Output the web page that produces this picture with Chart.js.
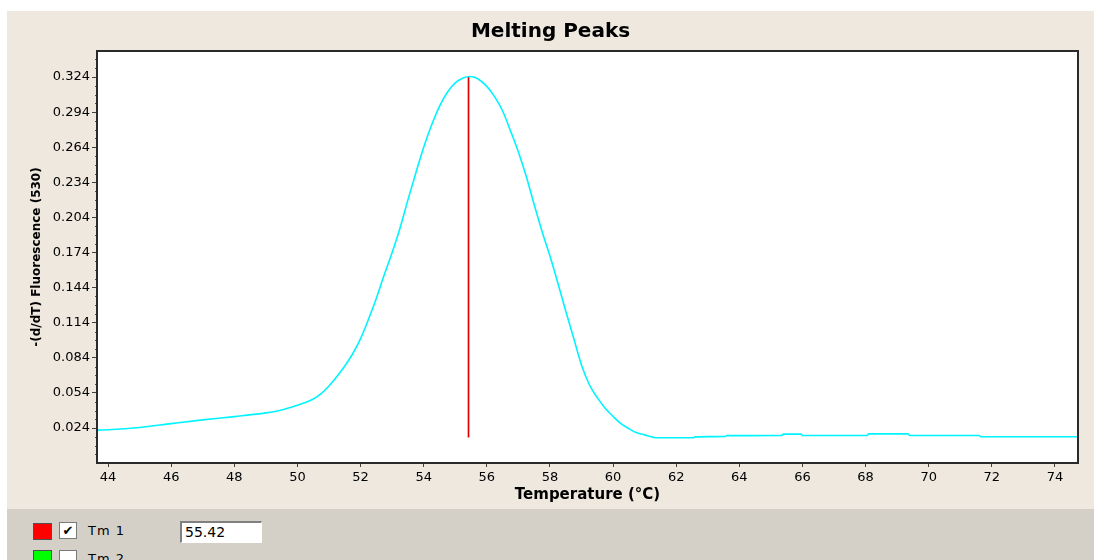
<!DOCTYPE html>
<html>
<head>
<meta charset="utf-8">
<title>Melting Peaks</title>
<script src="https://cdn.jsdelivr.net/npm/chart.js@4.4.1/dist/chart.umd.min.js"></script>
<style>
    body { margin: 0; background: #fff; width: 1094px; height: 560px; overflow: hidden; position: relative; font-family: "DejaVu Sans", sans-serif; }
    #panel { position: absolute; left: 7px; top: 11px; width: 1087px; height: 498px; background: #eee8df; }
    #bottom { position: absolute; left: 7px; top: 509px; width: 1087px; height: 51px; background: #d4d0c8; }
    .swatch { position: absolute; width: 17px; height: 15px; border: 1px solid #505050; }
    .check { position: absolute; width: 16px; height: 15px; background: #fff; border: 1px solid #7a7a7a; font-size: 13px; font-weight: bold; line-height: 15px; text-align: center; color: #000; }
    .lbl { position: absolute; font-size: 13px; color: #000; letter-spacing: 1px; }
    .tmbox { position: absolute; width: 76px; height: 19px; background: #fff; border-top: 2px solid #808080; border-left: 2px solid #808080; border-bottom: 1px solid #fff; border-right: 1px solid #fff; font-size: 14px; line-height: 19px; padding-left: 3px; box-sizing: content-box; }
</style>
</head>
<body>
<div id="panel"><canvas id="chart"></canvas></div>
<div id="bottom"></div>
<div class="swatch" style="left:33px;top:523px;background:#ff0000"></div>
<div class="check" style="left:59px;top:522px">✔</div>
<div class="lbl" style="left:88px;top:523px">Tm 1</div>
<div class="tmbox" style="left:180px;top:521px">55.42</div>
<div class="swatch" style="left:33px;top:550px;background:#00ff00"></div>
<div class="check" style="left:59px;top:550px"></div>
<div class="lbl" style="left:88px;top:551px">Tm 2</div>

<script>
// temperaturas (°C) y valores -(d/dT)
const temps = [
    43.68, 44, 45, 46, 47, 48, 49, 49.5, 50, 50.25,
    50.5, 50.75, 51, 51.25, 51.5, 51.75, 52, 52.25, 52.5, 52.75,
    53, 53.25, 53.5, 53.75, 54, 54.25, 54.5, 54.75, 55, 55.25,
    55.45, 55.7, 56, 56.25, 56.5, 56.75, 57, 57.25, 57.5, 57.75,
    58, 58.25, 58.5, 58.75, 59, 59.25, 59.5, 59.75, 60, 60.25,
    60.5, 60.75, 61, 61.4, 62.55, 62.6, 63.55, 63.6, 65.35, 65.4,
    65.95, 66, 68.05, 68.1, 69.35, 69.4, 71.6, 71.65, 74.7
];
const peakValues = [
    0.0222, 0.0225, 0.0245, 0.0278, 0.0310, 0.0338, 0.0370, 0.0395, 0.0435, 0.0458,
    0.0488, 0.0535, 0.0600, 0.0680, 0.0770, 0.0875, 0.1005, 0.1170, 0.1350, 0.1550,
    0.1740, 0.1950, 0.2190, 0.2420, 0.2640, 0.2830, 0.2990, 0.3110, 0.3190, 0.3232,
    0.3245, 0.3228, 0.3160, 0.3070, 0.2950, 0.2780, 0.2600, 0.2390, 0.2150, 0.1920,
    0.1710, 0.1480, 0.1240, 0.1010, 0.0780, 0.0610, 0.0500, 0.0410, 0.0340, 0.0278,
    0.0235, 0.0200, 0.0182, 0.0157, 0.0157, 0.0165, 0.0168, 0.0175, 0.0177, 0.0188,
    0.0188, 0.0176, 0.0177, 0.0190, 0.0190, 0.0177, 0.0177, 0.0166, 0.0166
];
const tmValue = 55.42;
const tmLine = [0.016, 0.324];
const xTicks = [44, 46, 48, 50, 52, 54, 56, 58, 60, 62, 64, 66, 68, 70, 72, 74];
const yTicks = [0.024, 0.054, 0.084, 0.114, 0.144, 0.174, 0.204, 0.234, 0.264, 0.294, 0.324];

// marco del area del grafico y fondo blanco
const framePlugin = {
    id: 'frame',
    beforeDraw(chart) {
        const a = chart.chartArea;
        const ctx = chart.ctx;
        ctx.save();
        ctx.fillStyle = '#fff';
        ctx.fillRect(a.left, a.top, a.right - a.left, a.bottom - a.top);
        ctx.restore();
    },
    afterDraw(chart) {
        const a = chart.chartArea;
        const ctx = chart.ctx;
        const y = chart.scales.y;
        ctx.save();
        // marcas menores del eje y
        ctx.strokeStyle = '#505050';
        ctx.lineWidth = 1;
        for (let i = 0; i < yTicks.length; i++) {
            for (let k = 1; k < 4; k++) {
                const v = yTicks[i] + k * 0.0075;
                if (v > y.max) continue;
                const py = Math.round(y.getPixelForValue(v)) + 0.5;
                ctx.beginPath();
                ctx.moveTo(a.left - 3, py);
                ctx.lineTo(a.left, py);
                ctx.stroke();
            }
        }
        for (let k = 1; k < 4; k++) {
            const py = Math.round(y.getPixelForValue(yTicks[0] - k * 0.0075)) + 0.5;
            ctx.beginPath();
            ctx.moveTo(a.left - 3, py);
            ctx.lineTo(a.left, py);
            ctx.stroke();
        }
        ctx.strokeStyle = '#2a2a2a';
        ctx.lineWidth = 2;
        ctx.strokeRect(a.left - 1, a.top - 1, a.right - a.left + 2, a.bottom - a.top + 2);
        ctx.restore();
    }
};

const ctx = document.getElementById('chart').getContext('2d');
const chart = new Chart(ctx, {
    type: 'line',
    data: {
        datasets: [{
            label: 'Peak',
            data: temps.map((t, i) => ({ x: t, y: peakValues[i] })),
            borderColor: '#00f4ff',
            borderWidth: 1.6,
            pointRadius: 0,
            fill: false,
            cubicInterpolationMode: 'monotone'
        }, {
            label: 'Tm 1',
            data: tmLine.map(v => ({ x: tmValue, y: v })),
            borderColor: '#e00000',
            borderWidth: 1.7,
            pointRadius: 0,
            fill: false
        }]
    },
    options: {
        responsive: true,
        maintainAspectRatio: false,
        animation: false,
        layout: { padding: 0 },
        plugins: {
            legend: { display: false },
            tooltip: { enabled: false },
            title: {
                display: true,
                text: 'Melting Peaks',
                color: '#000',
                font: { family: 'DejaVu Sans', size: 20, weight: 'bold' },
                padding: { top: 9, bottom: 8 }
            }
        },
        scales: {
            x: {
                type: 'linear',
                min: 43.68,
                max: 74.7,
                afterBuildTicks: s => { s.ticks = xTicks.map(v => ({ value: v })); },
                afterFit: s => { s.height = 47; },
                ticks: {
                    color: '#000',
                    padding: 3,
                    maxRotation: 0,
                    font: { family: 'DejaVu Sans', size: 13 }
                },
                grid: { drawOnChartArea: false, tickLength: 5, tickColor: '#404040' },
                border: { display: false },
                title: {
                    display: true,
                    text: 'Temperature (°C)',
                    color: '#000',
                    font: { family: 'DejaVu Sans', size: 15, weight: 'bold' },
                    padding: { top: 0, bottom: 5 }
                }
            },
            y: {
                min: -0.005,
                max: 0.3454,
                afterBuildTicks: s => { s.ticks = yTicks.map(v => ({ value: v })); },
                afterFit: s => { s.width = 91; },
                ticks: {
                    color: '#000',
                    padding: 2,
                    font: { family: 'DejaVu Sans', size: 13 },
                    callback: v => v.toFixed(3)
                },
                grid: { drawOnChartArea: false, tickLength: 6, tickColor: '#404040' },
                border: { display: false },
                title: {
                    display: true,
                    text: '-(d/dT) Fluorescence (530)',
                    color: '#000',
                    font: { family: 'DejaVu Sans', size: 12, weight: 'bold' },
                    padding: { top: 23, bottom: 0 }
                }
            },
            // eje vacio a la derecha solo para dejar margen
            r: {
                position: 'right',
                afterFit: s => { s.width = 17; },
                ticks: { display: false },
                grid: { display: false },
                border: { display: false }
            }
        }
    },
    plugins: [framePlugin]
});
</script>
</body>
</html>
